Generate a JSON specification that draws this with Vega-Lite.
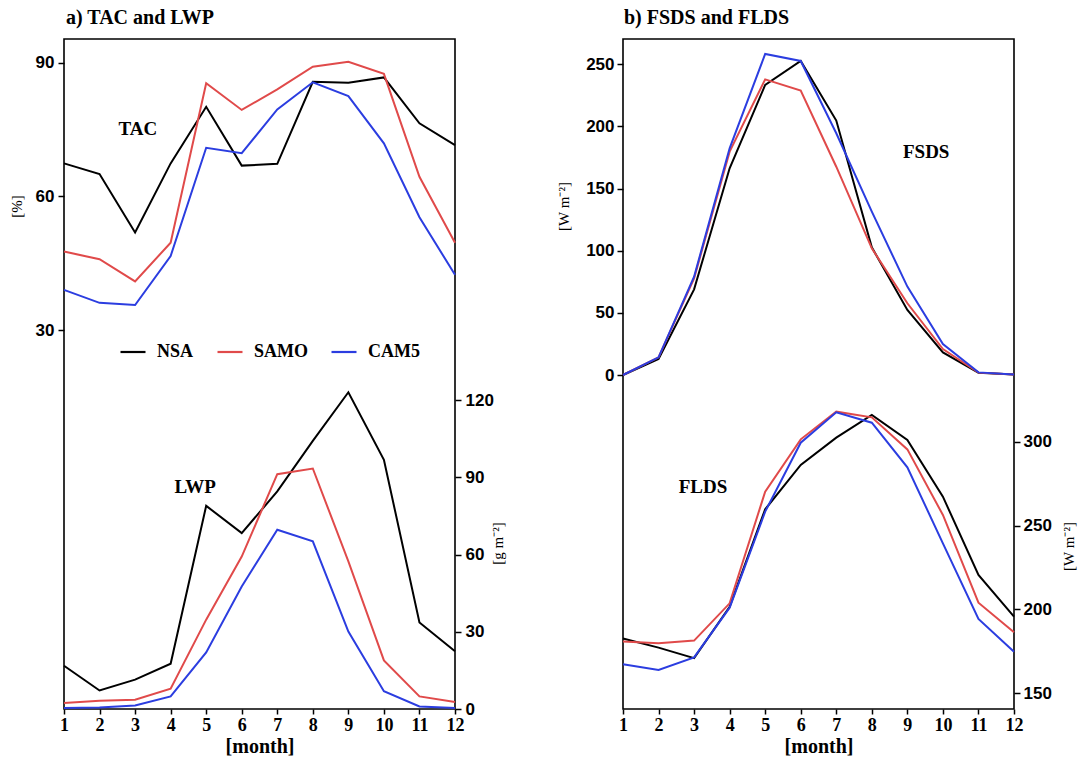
{
  "$schema": "https://vega.github.io/schema/vega-lite/v6.json",
  "background": "white",
  "padding": {"left": 8, "top": 7, "right": 5, "bottom": 5},
  "config": {
    "view": {"stroke": "black", "strokeWidth": 1.6},
    "axis": {"grid": false, "domain": false, "tickColor": "black", "labelColor": "black", "titleColor": "black", "tickWidth": 1.5, "labelFlush": false, "labelOverlap": false},
    "axisX": {"labelOverlap": false, "labelFlush": false},
    "axisQuantitative": {"labelOverlap": false}
  },
  "datasets": {
    "a": [
      {"month": 1, "series": "NSA", "tac": 67.4, "lwp": 16.8},
      {"month": 2, "series": "NSA", "tac": 65.0, "lwp": 7.2},
      {"month": 3, "series": "NSA", "tac": 51.9, "lwp": 11.4},
      {"month": 4, "series": "NSA", "tac": 67.4, "lwp": 17.6},
      {"month": 5, "series": "NSA", "tac": 80.1, "lwp": 78.9},
      {"month": 6, "series": "NSA", "tac": 66.9, "lwp": 68.3},
      {"month": 7, "series": "NSA", "tac": 67.3, "lwp": 84.5},
      {"month": 8, "series": "NSA", "tac": 85.7, "lwp": 104.1},
      {"month": 9, "series": "NSA", "tac": 85.5, "lwp": 123.0},
      {"month": 10, "series": "NSA", "tac": 86.7, "lwp": 96.8},
      {"month": 11, "series": "NSA", "tac": 76.4, "lwp": 33.6},
      {"month": 12, "series": "NSA", "tac": 71.5, "lwp": 22.4},
      {"month": 1, "series": "SAMO", "tac": 47.6, "lwp": 2.3},
      {"month": 2, "series": "SAMO", "tac": 45.9, "lwp": 3.2},
      {"month": 3, "series": "SAMO", "tac": 40.9, "lwp": 3.6},
      {"month": 4, "series": "SAMO", "tac": 49.6, "lwp": 7.9},
      {"month": 5, "series": "SAMO", "tac": 85.4, "lwp": 34.7},
      {"month": 6, "series": "SAMO", "tac": 79.4, "lwp": 59.2},
      {"month": 7, "series": "SAMO", "tac": 84.0, "lwp": 91.2},
      {"month": 8, "series": "SAMO", "tac": 89.1, "lwp": 93.4},
      {"month": 9, "series": "SAMO", "tac": 90.2, "lwp": 57.3},
      {"month": 10, "series": "SAMO", "tac": 87.5, "lwp": 18.9},
      {"month": 11, "series": "SAMO", "tac": 64.4, "lwp": 4.9},
      {"month": 12, "series": "SAMO", "tac": 49.6, "lwp": 2.7},
      {"month": 1, "series": "CAM5", "tac": 39.0, "lwp": 0.4},
      {"month": 2, "series": "CAM5", "tac": 36.1, "lwp": 0.6},
      {"month": 3, "series": "CAM5", "tac": 35.6, "lwp": 1.4},
      {"month": 4, "series": "CAM5", "tac": 46.6, "lwp": 4.9},
      {"month": 5, "series": "CAM5", "tac": 70.9, "lwp": 22.0},
      {"month": 6, "series": "CAM5", "tac": 69.7, "lwp": 47.6},
      {"month": 7, "series": "CAM5", "tac": 79.5, "lwp": 69.6},
      {"month": 8, "series": "CAM5", "tac": 85.6, "lwp": 65.1},
      {"month": 9, "series": "CAM5", "tac": 82.5, "lwp": 30.1},
      {"month": 10, "series": "CAM5", "tac": 71.9, "lwp": 6.9},
      {"month": 11, "series": "CAM5", "tac": 55.3, "lwp": 1.0},
      {"month": 12, "series": "CAM5", "tac": 42.4, "lwp": 0.4}
    ],
    "b": [
      {"month": 1, "series": "NSA", "fsds": 0, "flds": 182.6},
      {"month": 2, "series": "NSA", "fsds": 12.9, "flds": 177.2},
      {"month": 3, "series": "NSA", "fsds": 68.9, "flds": 170.9},
      {"month": 4, "series": "NSA", "fsds": 166.3, "flds": 201.6},
      {"month": 5, "series": "NSA", "fsds": 233.4, "flds": 259.7},
      {"month": 6, "series": "NSA", "fsds": 252.7, "flds": 286.1},
      {"month": 7, "series": "NSA", "fsds": 204.7, "flds": 302.4},
      {"month": 8, "series": "NSA", "fsds": 102.7, "flds": 315.9},
      {"month": 9, "series": "NSA", "fsds": 52.3, "flds": 301.0},
      {"month": 10, "series": "NSA", "fsds": 18.2, "flds": 267.2},
      {"month": 11, "series": "NSA", "fsds": 1.9, "flds": 220.5},
      {"month": 12, "series": "NSA", "fsds": 0.5, "flds": 195.7},
      {"month": 1, "series": "SAMO", "fsds": 0, "flds": 180.8},
      {"month": 2, "series": "SAMO", "fsds": 14.2, "flds": 179.8},
      {"month": 3, "series": "SAMO", "fsds": 77.8, "flds": 181.4},
      {"month": 4, "series": "SAMO", "fsds": 179.7, "flds": 203.6},
      {"month": 5, "series": "SAMO", "fsds": 237.9, "flds": 270.2},
      {"month": 6, "series": "SAMO", "fsds": 228.8, "flds": 301.4},
      {"month": 7, "series": "SAMO", "fsds": 167.6, "flds": 317.9},
      {"month": 8, "series": "SAMO", "fsds": 101.9, "flds": 314.5},
      {"month": 9, "series": "SAMO", "fsds": 57.7, "flds": 295.4},
      {"month": 10, "series": "SAMO", "fsds": 20.9, "flds": 256.3},
      {"month": 11, "series": "SAMO", "fsds": 1.9, "flds": 204.0},
      {"month": 12, "series": "SAMO", "fsds": 0.5, "flds": 186.4},
      {"month": 1, "series": "CAM5", "fsds": 0, "flds": 167.3},
      {"month": 2, "series": "CAM5", "fsds": 14.2, "flds": 163.9},
      {"month": 3, "series": "CAM5", "fsds": 79.1, "flds": 171.4},
      {"month": 4, "series": "CAM5", "fsds": 182.4, "flds": 201.0},
      {"month": 5, "series": "CAM5", "fsds": 258.3, "flds": 258.3},
      {"month": 6, "series": "CAM5", "fsds": 252.7, "flds": 299.4},
      {"month": 7, "series": "CAM5", "fsds": 194.5, "flds": 317.5},
      {"month": 8, "series": "CAM5", "fsds": 131.4, "flds": 311.3},
      {"month": 9, "series": "CAM5", "fsds": 71.1, "flds": 284.7},
      {"month": 10, "series": "CAM5", "fsds": 24.9, "flds": 239.4},
      {"month": 11, "series": "CAM5", "fsds": 2.1, "flds": 194.3},
      {"month": 12, "series": "CAM5", "fsds": 0.5, "flds": 174.8}
    ]
  },
  "hconcat": [
    {
      "width": 391,
      "height": 670,
      "title": {"text": "a) TAC and LWP", "anchor": "start", "frame": "group", "offset": -5, "baseline": "alphabetic", "font": "Liberation Serif", "fontSize": 20, "fontWeight": "bold", "color": "black", "dx": 2},
      "resolve": {"scale": {"y": "independent"}},
      "layer": [
        {
          "data": {"name": "a"},
          "mark": {"type": "line", "strokeWidth": 2},
          "encoding": {
            "x": {"field": "month", "type": "quantitative", "scale": {"domain": [1, 12], "nice": false, "zero": false}, "axis": {"values": [1, 2, 3, 4, 5, 6, 7, 8, 9, 10, 11, 12], "format": "d", "title": "[month]", "labelOverlap": false, "labelFlush": false, "labelFont": "Liberation Serif", "labelFontWeight": "bold", "labelFontSize": 18, "tickSize": 5, "labelPadding": 2, "titleFont": "Liberation Serif", "titleFontWeight": "bold", "titleFontSize": 20, "titlePadding": 2}},
            "y": {"field": "tac", "type": "quantitative", "scale": {"domain": [-55.07, 95.32], "nice": false, "zero": false}, "axis": {"orient": "left", "values": [30, 60, 90], "title": "[%]", "titleAngle": 270, "titleBaseline": "middle", "titleAlign": "center", "titleX": -48, "titleY": 167, "titleFont": "Liberation Serif", "titleFontWeight": "normal", "titleFontSize": 15, "labelFont": "Liberation Sans", "labelFontWeight": "bold", "labelFontSize": 17, "tickSize": 6, "labelPadding": 4}},
            "color": {"field": "series", "type": "nominal", "scale": {"domain": ["NSA", "SAMO", "CAM5"], "range": ["#000000", "#e04a4a", "#2b3de0"]}, "legend": {"orient": "none", "legendX": 55, "legendY": 299, "direction": "horizontal", "title": null, "symbolType": "stroke", "symbolSize": 625, "symbolStrokeWidth": 2.2, "labelFont": "Liberation Serif", "labelFontWeight": "bold", "labelFontSize": 18, "labelColor": "black", "labelOffset": 10, "columnPadding": 19, "padding": 0}}
          }
        },
        {
          "data": {"name": "a"},
          "mark": {"type": "line", "strokeWidth": 2},
          "encoding": {
            "x": {"field": "month", "type": "quantitative", "scale": {"domain": [1, 12], "nice": false, "zero": false}, "axis": {"values": [1, 2, 3, 4, 5, 6, 7, 8, 9, 10, 11, 12], "format": "d", "title": "[month]", "labelOverlap": false, "labelFlush": false, "labelFont": "Liberation Serif", "labelFontWeight": "bold", "labelFontSize": 18, "tickSize": 5, "labelPadding": 2, "titleFont": "Liberation Serif", "titleFontWeight": "bold", "titleFontSize": 20, "titlePadding": 2}},
            "y": {"field": "lwp", "type": "quantitative", "scale": {"domain": [0, 260.2], "nice": false, "zero": false}, "axis": {"orient": "right", "values": [0, 30, 60, 90, 120], "title": "[g m⁻²]", "titleAngle": 270, "titleBaseline": "middle", "titleAlign": "center", "titleX": 42, "titleY": 504, "titleFont": "Liberation Serif", "titleFontWeight": "normal", "titleFontSize": 15, "labelFont": "Liberation Sans", "labelFontWeight": "bold", "labelFontSize": 17, "tickSize": 6, "labelPadding": 4}},
            "color": {"field": "series", "type": "nominal", "scale": {"domain": ["NSA", "SAMO", "CAM5"], "range": ["#000000", "#e04a4a", "#2b3de0"]}, "legend": {"orient": "none", "legendX": 55, "legendY": 299, "direction": "horizontal", "title": null, "symbolType": "stroke", "symbolSize": 625, "symbolStrokeWidth": 2.2, "labelFont": "Liberation Serif", "labelFontWeight": "bold", "labelFontSize": 18, "labelColor": "black", "labelOffset": 10, "columnPadding": 19, "padding": 0}}
          }
        },
        {
          "data": {"values": [{"month": 3.08, "v": 75.1, "label": "TAC"}]},
          "mark": {"type": "text", "font": "Liberation Serif", "fontWeight": "bold", "fontSize": 19, "align": "center", "baseline": "middle", "color": "black"},
          "encoding": {
            "x": {"field": "month", "type": "quantitative", "scale": {"domain": [1, 12], "nice": false, "zero": false}, "axis": {"values": [1, 2, 3, 4, 5, 6, 7, 8, 9, 10, 11, 12], "format": "d", "title": "[month]", "labelOverlap": false, "labelFlush": false, "labelFont": "Liberation Serif", "labelFontWeight": "bold", "labelFontSize": 18, "tickSize": 5, "labelPadding": 2, "titleFont": "Liberation Serif", "titleFontWeight": "bold", "titleFontSize": 20, "titlePadding": 2}},
            "y": {"field": "v", "type": "quantitative", "scale": {"domain": [-55.07, 95.32], "nice": false, "zero": false}, "axis": null},
            "text": {"field": "label"}
          }
        },
        {
          "data": {"values": [{"month": 4.69, "v": 86.3, "label": "LWP"}]},
          "mark": {"type": "text", "font": "Liberation Serif", "fontWeight": "bold", "fontSize": 19, "align": "center", "baseline": "middle", "color": "black"},
          "encoding": {
            "x": {"field": "month", "type": "quantitative", "scale": {"domain": [1, 12], "nice": false, "zero": false}, "axis": {"values": [1, 2, 3, 4, 5, 6, 7, 8, 9, 10, 11, 12], "format": "d", "title": "[month]", "labelOverlap": false, "labelFlush": false, "labelFont": "Liberation Serif", "labelFontWeight": "bold", "labelFontSize": 18, "tickSize": 5, "labelPadding": 2, "titleFont": "Liberation Serif", "titleFontWeight": "bold", "titleFontSize": 20, "titlePadding": 2}},
            "y": {"field": "v", "type": "quantitative", "scale": {"domain": [0, 260.2], "nice": false, "zero": false}, "axis": null},
            "text": {"field": "label"}
          }
        }
      ]
    },
    {
      "width": 391,
      "height": 670,
      "title": {"text": "b) FSDS and FLDS", "anchor": "start", "frame": "group", "offset": -5, "baseline": "alphabetic", "font": "Liberation Serif", "fontSize": 20, "fontWeight": "bold", "color": "black", "dx": 1},
      "resolve": {"scale": {"y": "independent"}},
      "layer": [
        {
          "data": {"name": "b"},
          "mark": {"type": "line", "strokeWidth": 2},
          "encoding": {
            "x": {"field": "month", "type": "quantitative", "scale": {"domain": [1, 12], "nice": false, "zero": false}, "axis": {"values": [1, 2, 3, 4, 5, 6, 7, 8, 9, 10, 11, 12], "format": "d", "title": "[month]", "labelOverlap": false, "labelFlush": false, "labelFont": "Liberation Serif", "labelFontWeight": "bold", "labelFontSize": 18, "tickSize": 5, "labelPadding": 2, "titleFont": "Liberation Serif", "titleFontWeight": "bold", "titleFontSize": 20, "titlePadding": 2}},
            "y": {"field": "fsds", "type": "quantitative", "scale": {"domain": [-268.75, 270.36], "nice": false, "zero": false}, "axis": {"orient": "left", "values": [0, 50, 100, 150, 200, 250], "title": "[W m⁻²]", "titleAngle": 270, "titleBaseline": "middle", "titleAlign": "center", "titleX": -60, "titleY": 167, "titleFont": "Liberation Serif", "titleFontWeight": "normal", "titleFontSize": 15, "labelFont": "Liberation Sans", "labelFontWeight": "bold", "labelFontSize": 17, "tickSize": 6, "labelPadding": 3}},
            "color": {"field": "series", "type": "nominal", "scale": {"domain": ["NSA", "SAMO", "CAM5"], "range": ["#000000", "#e04a4a", "#2b3de0"]}, "legend": null}
          }
        },
        {
          "data": {"name": "b"},
          "mark": {"type": "line", "strokeWidth": 2},
          "encoding": {
            "x": {"field": "month", "type": "quantitative", "scale": {"domain": [1, 12], "nice": false, "zero": false}, "axis": {"values": [1, 2, 3, 4, 5, 6, 7, 8, 9, 10, 11, 12], "format": "d", "title": "[month]", "labelOverlap": false, "labelFlush": false, "labelFont": "Liberation Serif", "labelFontWeight": "bold", "labelFontSize": 18, "tickSize": 5, "labelPadding": 2, "titleFont": "Liberation Serif", "titleFontWeight": "bold", "titleFontSize": 20, "titlePadding": 2}},
            "y": {"field": "flds", "type": "quantitative", "scale": {"domain": [140.6, 540.1], "nice": false, "zero": false}, "axis": {"orient": "right", "values": [150, 200, 250, 300], "title": "[W m⁻²]", "titleAngle": 270, "titleBaseline": "middle", "titleAlign": "center", "titleX": 54, "titleY": 507, "titleFont": "Liberation Serif", "titleFontWeight": "normal", "titleFontSize": 15, "labelFont": "Liberation Sans", "labelFontWeight": "bold", "labelFontSize": 17, "tickSize": 6, "labelPadding": 3}},
            "color": {"field": "series", "type": "nominal", "scale": {"domain": ["NSA", "SAMO", "CAM5"], "range": ["#000000", "#e04a4a", "#2b3de0"]}, "legend": null}
          }
        },
        {
          "data": {"values": [{"month": 9.53, "v": 179.6, "label": "FSDS"}]},
          "mark": {"type": "text", "font": "Liberation Serif", "fontWeight": "bold", "fontSize": 19, "align": "center", "baseline": "middle", "color": "black"},
          "encoding": {
            "x": {"field": "month", "type": "quantitative", "scale": {"domain": [1, 12], "nice": false, "zero": false}, "axis": {"values": [1, 2, 3, 4, 5, 6, 7, 8, 9, 10, 11, 12], "format": "d", "title": "[month]", "labelOverlap": false, "labelFlush": false, "labelFont": "Liberation Serif", "labelFontWeight": "bold", "labelFontSize": 18, "tickSize": 5, "labelPadding": 2, "titleFont": "Liberation Serif", "titleFontWeight": "bold", "titleFontSize": 20, "titlePadding": 2}},
            "y": {"field": "v", "type": "quantitative", "scale": {"domain": [-268.75, 270.36], "nice": false, "zero": false}, "axis": null},
            "text": {"field": "label"}
          }
        },
        {
          "data": {"values": [{"month": 3.25, "v": 272.8, "label": "FLDS"}]},
          "mark": {"type": "text", "font": "Liberation Serif", "fontWeight": "bold", "fontSize": 19, "align": "center", "baseline": "middle", "color": "black"},
          "encoding": {
            "x": {"field": "month", "type": "quantitative", "scale": {"domain": [1, 12], "nice": false, "zero": false}, "axis": {"values": [1, 2, 3, 4, 5, 6, 7, 8, 9, 10, 11, 12], "format": "d", "title": "[month]", "labelOverlap": false, "labelFlush": false, "labelFont": "Liberation Serif", "labelFontWeight": "bold", "labelFontSize": 18, "tickSize": 5, "labelPadding": 2, "titleFont": "Liberation Serif", "titleFontWeight": "bold", "titleFontSize": 20, "titlePadding": 2}},
            "y": {"field": "v", "type": "quantitative", "scale": {"domain": [140.6, 540.1], "nice": false, "zero": false}, "axis": null},
            "text": {"field": "label"}
          }
        }
      ]
    }
  ],
  "spacing": 168,
  "bounds": "flush",
  "resolve": {"scale": {"color": "independent"}, "legend": {"color": "independent"}}
}
